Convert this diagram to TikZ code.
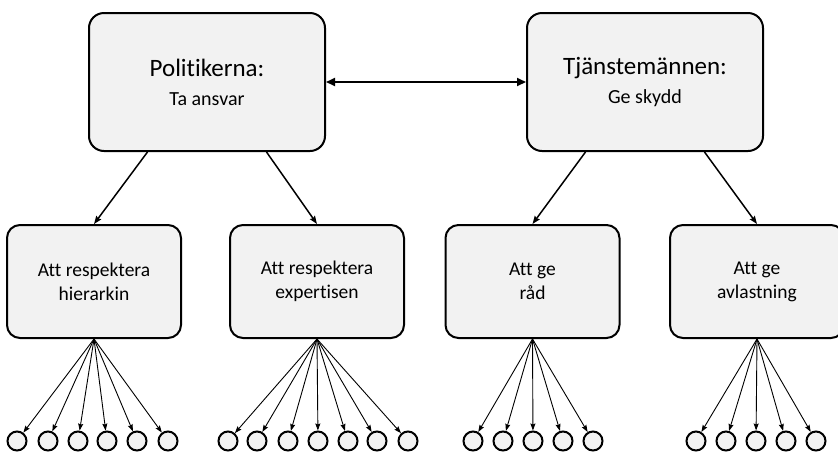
\documentclass[tikz,border=0pt]{standalone}
\usepackage{fontspec}
\setmainfont{Carlito}[Ligatures=NoCommon]
\usetikzlibrary{arrows.meta,calc}
\definecolor{boxgray}{HTML}{F2F2F2}

\begin{document}
\begin{tikzpicture}[x=1pt,y=-1pt]
\useasboundingbox (0,0) rectangle (838,451);
% top level
\begin{scope}[every node/.style={rectangle,rounded corners=15pt,draw,line width=2pt,fill=boxgray,
              minimum width=236pt,minimum height=138pt,align=center,font=\fontsize{20}{29}\selectfont}]
    \node (P) at (207,82) {{\fontsize{25}{29}\selectfont Politikerna:}\\Ta ansvar};
    \node (T) at (645,82) {{\fontsize{25}{29}\selectfont Tjänstemännen:}\\Ge skydd};
\end{scope}
% second level
\begin{scope}[every node/.style={rectangle,rounded corners=13pt,draw,line width=2pt,fill=boxgray,
              minimum width=174pt,minimum height=113pt,align=center,font=\fontsize{19.5}{24}\selectfont}]
    \node (H) at (94,281.5) {Att respektera\\hierarkin};
    \node (E) at (317,281.5) {Att respektera\\expertisen};
    \node (R) at (532.5,281.5) {Att ge\\råd};
    \node (A) at (757,281.5) {Att ge\\avlastning};
\end{scope}
% leaves
\begin{scope}[every node/.style={circle,draw,line width=2pt,fill=boxgray,minimum size=19pt,inner sep=0pt}]
    \foreach \x [count=\i] in {17,48,78,107,137,168} \node (h\i) at (\x,441) {};
    \foreach \x [count=\i] in {228,257,288,318,348,377,408} \node (e\i) at (\x,441) {};
    \foreach \x [count=\i] in {473,503,533,563,593} \node (r\i) at (\x,441) {};
    \foreach \x [count=\i] in {696,726,756,786,816} \node (a\i) at (\x,441) {};
\end{scope}
\begin{scope}[>={Triangle[length=9pt,width=8pt]},
              every edge/.style={draw,line width=2pt}]
    \path [<->] (P) edge (T);
\end{scope}
\begin{scope}[>={Stealth[length=8pt,width=6pt,inset=1pt]},
              every edge/.style={draw,line width=1.5pt}]
    \path [->] ($(P.south west)!.25!(P.south east)$) edge (H.north);
    \path [->] ($(P.south west)!.75!(P.south east)$) edge (E.north);
    \path [->] ($(T.south west)!.25!(T.south east)$) edge (R.north);
    \path [->] ($(T.south west)!.75!(T.south east)$) edge (A.north);
\end{scope}
\begin{scope}[>={Stealth[length=7pt,width=5pt,inset=1pt]},
              every edge/.style={draw,line width=0.9pt}]
    \foreach \i in {1,...,6} \path [->] (H.south) edge (h\i);
    \foreach \i in {1,...,7} \path [->] (E.south) edge (e\i);
    \foreach \i in {1,...,5} \path [->] (R.south) edge (r\i);
    \foreach \i in {1,...,5} \path [->] (A.south) edge (a\i);
\end{scope}
\end{tikzpicture}
\end{document}
